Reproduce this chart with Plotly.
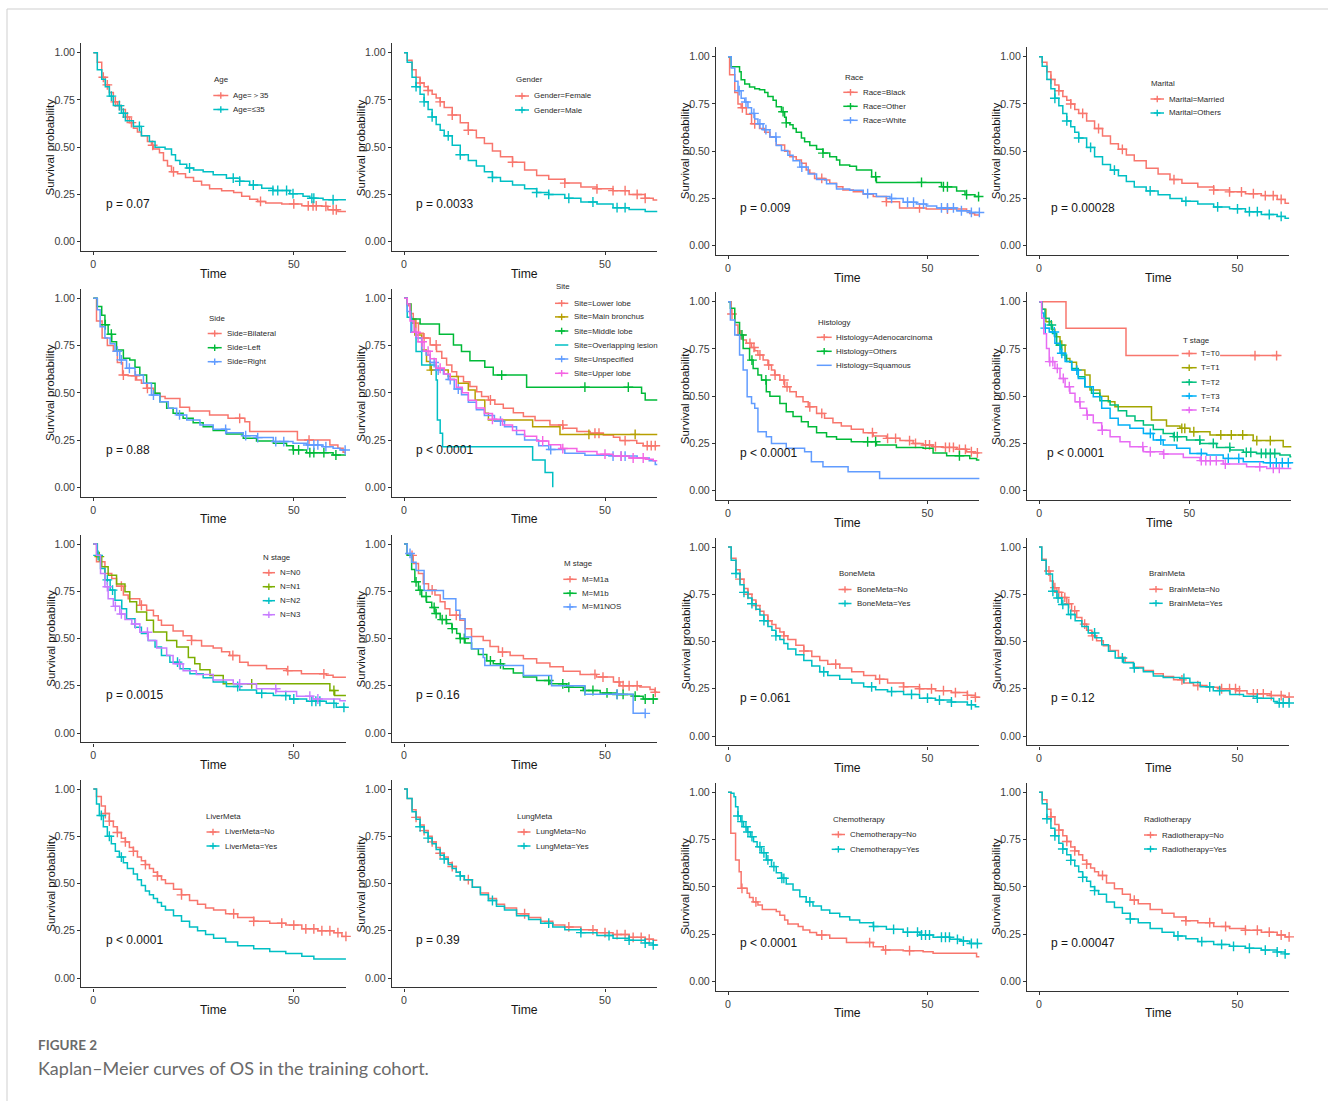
import plotly.graph_objects as go

W, H = 1328, 1101

# ---------------- Kaplan-Meier step data (months, survival after each step) ----------------
# Age
age_gt35_t = [1.0, 2.1, 3.0, 4.0, 5.0, 6.0, 7.0, 8.0, 9.0, 10.0, 11.0, 12.0, 13.5, 14.5, 15.0, 16.5, 17.5, 18.5, 19.5, 21.0, 23.0, 25.0, 27.0, 29.0, 32.0, 35.0, 37.0, 39.0, 41.0, 43.0, 47.0, 52.0, 57.0, 58.5, 61.0, 64.0]
age_gt35_s = [0.95, 0.87, 0.83, 0.79, 0.74, 0.72, 0.70, 0.66, 0.63, 0.60, 0.58, 0.56, 0.53, 0.51, 0.49, 0.47, 0.43, 0.40, 0.37, 0.36, 0.34, 0.32, 0.30, 0.28, 0.27, 0.26, 0.24, 0.225, 0.213, 0.205, 0.20, 0.19, 0.187, 0.169, 0.16, 0.16]
age_gt35_c = [2.5, 3.5, 5.5, 6.5, 8.5, 9.5, 14.8, 20.0, 41.7, 50.0, 53.6, 54.8, 55.6, 58.0, 59.8, 60.6]
age_le35_t = [1.0, 2.1, 3.0, 4.0, 5.0, 7.0, 8.0, 10.0, 12.0, 14.0, 15.4, 17.9, 19.5, 20.5, 21.6, 23.3, 25.0, 27.4, 29.9, 33.2, 36.5, 39.0, 42.0, 44.8, 49.0, 52.3, 54.0, 57.3, 64.0]
age_le35_s = [0.91, 0.86, 0.82, 0.77, 0.72, 0.68, 0.64, 0.61, 0.56, 0.53, 0.50, 0.49, 0.46, 0.43, 0.41, 0.39, 0.38, 0.37, 0.354, 0.336, 0.32, 0.30, 0.283, 0.271, 0.254, 0.24, 0.23, 0.222, 0.222]
age_le35_c = [4.5, 6.5, 7.5, 11.5, 24.0, 34.9, 36.5, 39.9, 44.8, 46.0, 48.2, 49.8, 54.5, 55.0, 59.8]

# Gender
gen_f_t = [0.8, 2, 3, 4, 5, 6, 7, 8, 9, 10, 12, 14, 16, 18, 20, 22, 24, 27, 30, 33, 36, 40, 44, 48, 52, 56, 60, 62, 64]
gen_f_s = [0.96, 0.91, 0.87, 0.84, 0.82, 0.80, 0.78, 0.76, 0.74, 0.71, 0.67, 0.63, 0.59, 0.55, 0.52, 0.48, 0.45, 0.42, 0.38, 0.35, 0.33, 0.31, 0.29, 0.28, 0.27, 0.25, 0.23, 0.22, 0.22]
gen_f_c = [4, 6, 9, 12, 16, 27, 40, 48, 52, 55, 58, 60]
gen_m_t = [0.8, 2, 3, 4, 5, 6, 7, 8, 9, 10, 12, 14, 16, 18, 20, 22, 24, 27, 30, 33, 36, 40, 44, 48, 52, 56, 60, 64]
gen_m_s = [0.95, 0.87, 0.82, 0.78, 0.74, 0.70, 0.66, 0.62, 0.59, 0.56, 0.51, 0.46, 0.43, 0.40, 0.37, 0.34, 0.32, 0.30, 0.28, 0.26, 0.25, 0.23, 0.21, 0.20, 0.18, 0.17, 0.16, 0.16]
gen_m_c = [3, 5, 7, 11, 14, 22, 33, 36, 41, 47, 53, 55]

# Race
race_b_t = [0.4, 1.7, 2.5, 3.3, 4.6, 5.9, 7.9, 9.2, 10.5, 12.1, 14.2, 15.5, 17.1, 18.4, 19.6, 20.5, 21.7, 24.2, 25.5, 27.2, 28.8, 31.4, 33.9, 36.4, 39.7, 43.0, 49.7, 59.8, 60.6, 61.8, 64.0]
race_b_s = [0.905, 0.81, 0.75, 0.73, 0.695, 0.645, 0.62, 0.60, 0.575, 0.533, 0.50, 0.47, 0.453, 0.436, 0.40, 0.383, 0.356, 0.347, 0.33, 0.312, 0.295, 0.286, 0.272, 0.26, 0.233, 0.20, 0.194, 0.183, 0.17, 0.163, 0.163]
race_b_c = [3.6, 6.7, 23.5, 39.7, 48.0, 55.0]
race_o_t = [0.8, 2.9, 3.3, 4.2, 5.4, 6.7, 7.9, 9.2, 10.0, 11.3, 12.1, 13.4, 14.2, 14.6, 15.5, 16.3, 17.1, 18.4, 19.2, 20.5, 22.2, 23.8, 25.5, 27.2, 28.0, 30.5, 32.2, 36.0, 37.2, 53.5, 55.6, 57.3, 59.4, 61.9, 64.0]
race_o_s = [0.947, 0.92, 0.878, 0.855, 0.84, 0.83, 0.825, 0.81, 0.79, 0.77, 0.735, 0.709, 0.68, 0.65, 0.64, 0.62, 0.60, 0.57, 0.55, 0.53, 0.51, 0.49, 0.47, 0.453, 0.427, 0.42, 0.40, 0.365, 0.335, 0.312, 0.31, 0.29, 0.27, 0.26, 0.26]
race_o_c = [13.8, 14.6, 23.8, 37.0, 48.5, 54.0, 55.0, 59.8, 62.8]
race_w_t = [0.8, 1.7, 2.5, 3.3, 4.2, 5.0, 5.9, 6.7, 7.5, 8.8, 10.5, 12.1, 13.4, 15.0, 16.3, 18.0, 20.1, 22.2, 24.7, 27.2, 30.5, 33.9, 37.2, 40.6, 43.9, 47.2, 49.7, 52.3, 57.3, 60.6, 64.0]
race_w_s = [0.94, 0.87, 0.82, 0.78, 0.76, 0.73, 0.70, 0.67, 0.645, 0.614, 0.575, 0.53, 0.504, 0.478, 0.45, 0.416, 0.38, 0.35, 0.328, 0.30, 0.293, 0.275, 0.26, 0.25, 0.23, 0.22, 0.21, 0.20, 0.185, 0.176, 0.171]
race_w_c = [2.8, 4.5, 6.5, 8.0, 9.5, 12.0, 18.5, 35.0, 41.0, 45.0, 46.5, 49.0, 53.5, 55.0, 56.5, 58.5, 61.0, 63.0]

# Marital
mar_m_t = [0.8, 2, 3, 4, 5, 6, 7, 8, 9, 10, 12, 14, 16, 18, 20, 22, 24, 27, 30, 33, 36, 40, 44, 48, 52, 56, 60, 62, 64]
mar_m_s = [0.97, 0.92, 0.88, 0.85, 0.82, 0.79, 0.77, 0.75, 0.72, 0.70, 0.66, 0.62, 0.58, 0.54, 0.51, 0.48, 0.45, 0.41, 0.38, 0.35, 0.33, 0.31, 0.295, 0.285, 0.275, 0.265, 0.245, 0.225, 0.225]
mar_m_c = [3, 5, 8, 11, 15, 21, 34, 44, 48, 51, 54, 57, 59, 61]
mar_o_t = [0.8, 2, 3, 4, 5, 6, 7, 8, 9, 10, 12, 14, 16, 18, 20, 22, 24, 27, 30, 33, 36, 40, 44, 48, 52, 56, 60, 62, 64]
mar_o_s = [0.95, 0.88, 0.83, 0.78, 0.74, 0.70, 0.66, 0.63, 0.60, 0.57, 0.52, 0.47, 0.43, 0.40, 0.37, 0.34, 0.31, 0.29, 0.27, 0.25, 0.235, 0.22, 0.205, 0.195, 0.18, 0.165, 0.155, 0.145, 0.145]
mar_o_c = [4, 7, 10, 13, 19, 28, 37, 45, 50, 53, 55, 58, 61]

# Side
side_b_t = [0.8, 2.2, 3.5, 5.0, 6.0, 7.3, 8.7, 10.8, 12.0, 13.3, 15.0, 16.6, 17.9, 21.6, 24.0, 29.0, 33.6, 37.8, 39.0, 50.9, 59.0, 61.0, 62.3, 64.0]
side_b_s = [0.88, 0.79, 0.75, 0.72, 0.66, 0.594, 0.59, 0.568, 0.55, 0.524, 0.497, 0.48, 0.47, 0.423, 0.404, 0.383, 0.365, 0.347, 0.295, 0.25, 0.224, 0.206, 0.185, 0.185]
side_b_c = [7.5, 10.5, 13.5, 36.5, 53.8]
side_l_t = [1.0, 2.1, 2.9, 3.7, 4.6, 5.8, 7.5, 9.1, 10.4, 11.6, 13.3, 15.4, 16.6, 18.3, 19.9, 22.4, 24.9, 27.4, 29.9, 33.2, 37.4, 40.7, 44.9, 48.2, 49.8, 53.2, 59.8, 64.0]
side_l_s = [0.956, 0.91, 0.86, 0.81, 0.77, 0.727, 0.683, 0.674, 0.635, 0.594, 0.55, 0.497, 0.453, 0.418, 0.392, 0.365, 0.342, 0.321, 0.30, 0.282, 0.26, 0.245, 0.233, 0.22, 0.198, 0.183, 0.171, 0.165]
side_l_c = [3.0, 4.5, 49.9, 51.2, 54.0, 55.0, 57.5, 60.5]
side_r_t = [1.0, 1.7, 2.9, 4.2, 5.4, 6.6, 8.3, 10.4, 12.5, 14.5, 16.6, 18.7, 20.8, 23.3, 26.6, 29.9, 33.2, 37.4, 40.7, 44.9, 49.8, 53.2, 57.3, 59.8, 61.5, 64.0]
side_r_s = [0.94, 0.85, 0.79, 0.76, 0.72, 0.674, 0.63, 0.594, 0.55, 0.488, 0.453, 0.418, 0.383, 0.356, 0.33, 0.307, 0.289, 0.273, 0.263, 0.242, 0.233, 0.224, 0.215, 0.206, 0.197, 0.194]
side_r_c = [6.0, 7.0, 9.0, 15.0, 21.5, 33.0, 38.0, 41.0, 45.5, 47.5, 53.5, 55.0, 56.0, 58.0, 62.8]

# Site
site_lo_t = [0.8, 1.5, 2.3, 3.6, 4.8, 6.5, 8.1, 9.4, 10.6, 11.9, 13.1, 14.8, 16.4, 18.1, 19.3, 21.0, 22.6, 24.7, 27.2, 29.7, 32.6, 36.3, 39.6, 43.0, 46.3, 49.6, 52.1, 53.7, 57.9, 59.5, 64.0]
site_lo_s = [0.96, 0.92, 0.868, 0.815, 0.79, 0.753, 0.718, 0.683, 0.647, 0.612, 0.586, 0.559, 0.533, 0.506, 0.48, 0.462, 0.44, 0.418, 0.395, 0.374, 0.353, 0.33, 0.312, 0.295, 0.286, 0.277, 0.265, 0.247, 0.233, 0.22, 0.22]
site_lo_c = [3.0, 5.0, 8.0, 21.5, 39.5, 47.5, 48.5, 55.0, 60.5, 61.5, 62.5]
site_mb_t = [0.8, 1.7, 2.7, 4.4, 5.6, 6.5, 11.0, 13.5, 16.0, 17.7, 20.1, 21.0, 32.0, 38.8, 64.0]
site_mb_s = [0.97, 0.89, 0.806, 0.727, 0.665, 0.62, 0.586, 0.55, 0.515, 0.462, 0.392, 0.356, 0.32, 0.28, 0.28]
site_mb_c = [6.8, 46.0, 57.5]
site_ml_t = [0.8, 1.7, 4.0, 8.8, 12.3, 14.3, 16.4, 20.1, 22.2, 30.5, 59.1, 60.0, 64.0]
site_ml_s = [0.97, 0.89, 0.864, 0.81, 0.753, 0.718, 0.67, 0.635, 0.594, 0.53, 0.497, 0.462, 0.462]
site_ml_c = [24.3, 45.0, 55.8]
site_ov_t = [0.8, 1.9, 3.0, 4.4, 8.0, 8.3, 9.0, 9.6, 32.0, 35.1, 37.0]
site_ov_s = [0.90, 0.82, 0.718, 0.647, 0.568, 0.356, 0.286, 0.215, 0.144, 0.078, 0.0]
site_ov_c = []
site_un_t = [0.8, 1.7, 3.0, 4.4, 5.5, 6.5, 8.0, 9.8, 11.0, 12.5, 14.3, 16.0, 18.0, 20.0, 22.5, 25.0, 28.0, 30.0, 33.5, 36.0, 40.0, 45.0, 52.0, 58.0, 61.0, 62.5, 64.0]
site_un_s = [0.93, 0.82, 0.79, 0.72, 0.70, 0.66, 0.62, 0.60, 0.57, 0.52, 0.49, 0.45, 0.41, 0.38, 0.35, 0.32, 0.28, 0.25, 0.22, 0.20, 0.18, 0.17, 0.165, 0.155, 0.14, 0.12, 0.12]
site_un_c = [7.5, 8.5, 11.5, 13.5, 24.0, 36.5, 52.0, 54.0, 55.0]
site_up_t = [0.8, 1.5, 2.5, 3.5, 5.0, 6.5, 8.0, 10.0, 11.5, 13.0, 14.5, 16.0, 18.0, 20.0, 22.0, 24.5, 27.0, 30.0, 33.0, 36.0, 39.0, 43.0, 48.0, 52.0, 56.0, 60.0, 62.0, 64.0]
site_up_s = [0.97, 0.88, 0.82, 0.77, 0.72, 0.68, 0.63, 0.60, 0.57, 0.53, 0.50, 0.46, 0.42, 0.39, 0.36, 0.33, 0.30, 0.27, 0.245, 0.225, 0.205, 0.19, 0.175, 0.165, 0.155, 0.148, 0.14, 0.14]
site_up_c = [3.0, 4.5, 6.0, 9.0, 22.0, 34.5, 39.5, 50.0, 54.0, 57.0, 59.5]

# Histology
his_ad_t = [0.8, 1.7, 2.5, 3.8, 4.6, 5.9, 6.7, 7.5, 8.8, 10.0, 10.9, 11.7, 13.0, 14.2, 15.5, 17.1, 18.8, 20.1, 22.2, 24.2, 26.3, 28.4, 30.9, 33.9, 36.4, 39.7, 43.1, 46.4, 48.9, 51.4, 53.9, 57.3, 59.8, 61.5, 64.0]
his_ad_s = [0.935, 0.877, 0.824, 0.797, 0.78, 0.758, 0.74, 0.718, 0.691, 0.665, 0.638, 0.612, 0.586, 0.55, 0.524, 0.497, 0.47, 0.444, 0.409, 0.383, 0.36, 0.342, 0.325, 0.307, 0.289, 0.277, 0.265, 0.25, 0.242, 0.233, 0.229, 0.219, 0.206, 0.20, 0.20]
his_ad_c = [1.0, 3.2, 5.5, 6.5, 8.0, 10.2, 11.8, 14.0, 14.8, 20.5, 23.5, 36.2, 40.0, 42.0, 45.5, 47.0, 49.5, 50.5, 52.0, 54.5, 55.5, 56.5, 58.0, 59.5, 61.0, 62.5]
his_ot_t = [0.6, 1.7, 2.9, 3.8, 5.4, 6.3, 7.5, 8.4, 9.6, 10.5, 13.0, 14.6, 16.3, 18.4, 20.1, 22.2, 24.7, 27.2, 30.9, 37.2, 42.2, 48.9, 51.4, 54.8, 60.6, 62.3, 64.0]
his_ot_s = [0.965, 0.89, 0.824, 0.753, 0.691, 0.647, 0.612, 0.586, 0.524, 0.50, 0.462, 0.418, 0.392, 0.365, 0.339, 0.307, 0.286, 0.272, 0.259, 0.242, 0.229, 0.224, 0.20, 0.185, 0.171, 0.162, 0.162]
his_ot_c = [3.5, 6.0, 9.5, 35.0, 37.0, 58.0]
his_sq_t = [0.6, 1.7, 2.9, 3.8, 4.8, 5.9, 6.7, 7.5, 9.6, 10.9, 14.6, 19.2, 20.9, 23.8, 30.1, 38.0, 64.0]
his_sq_s = [0.903, 0.824, 0.718, 0.638, 0.497, 0.462, 0.436, 0.312, 0.286, 0.25, 0.224, 0.206, 0.153, 0.127, 0.10, 0.065, 0.065]
his_sq_c = []

# T stage
t0_t = [8.9, 28.9, 80.0]
t0_s = [0.86, 0.715, 0.715]
t0_c = [71.9, 79.1]
t1_t = [1.0, 2.2, 4.1, 5.2, 6.9, 8.6, 10.2, 12.4, 15.2, 16.9, 20.2, 23.0, 25.2, 37.4, 42.4, 46.9, 50.2, 56.9, 71.3, 81.3, 84.5]
t1_s = [0.96, 0.894, 0.854, 0.815, 0.77, 0.70, 0.68, 0.638, 0.612, 0.533, 0.50, 0.47, 0.444, 0.374, 0.342, 0.33, 0.312, 0.295, 0.265, 0.233, 0.233]
t1_c = [7.5, 47.5, 48.5, 51.5, 60.5, 64.0, 67.8, 72.5, 77.0]
t2_t = [0.8, 1.9, 3.3, 4.4, 5.8, 7.4, 9.1, 10.8, 13.0, 15.2, 17.4, 20.2, 23.6, 26.3, 29.1, 31.9, 34.7, 38.0, 41.3, 44.7, 49.1, 53.6, 59.1, 63.6, 68.0, 72.4, 80.2, 83.6, 84.5]
t2_s = [0.96, 0.912, 0.877, 0.832, 0.77, 0.718, 0.683, 0.647, 0.603, 0.55, 0.515, 0.476, 0.453, 0.423, 0.395, 0.37, 0.347, 0.324, 0.303, 0.286, 0.268, 0.25, 0.229, 0.215, 0.203, 0.197, 0.189, 0.18, 0.18]
t2_c = [4.0, 7.0, 45.0, 46.0, 53.5, 58.0, 63.5, 69.0, 70.5, 74.0, 75.5, 77.0, 78.5]
t3_t = [0.8, 1.5, 3.3, 5.2, 6.9, 8.6, 10.8, 13.0, 15.2, 18.0, 20.8, 23.6, 26.3, 30.2, 34.7, 38.0, 41.3, 45.8, 50.2, 55.8, 61.3, 68.0, 74.7, 84.5]
t3_s = [0.94, 0.86, 0.84, 0.78, 0.727, 0.683, 0.638, 0.594, 0.55, 0.497, 0.436, 0.383, 0.347, 0.33, 0.303, 0.268, 0.242, 0.224, 0.197, 0.189, 0.171, 0.153, 0.148, 0.145]
t3_c = [2.0, 5.0, 7.5, 12.5, 37.0, 40.5, 54.0, 63.0, 66.5, 77.0, 79.0, 81.0, 83.0]
t4_t = [0.8, 1.5, 2.4, 3.3, 5.2, 6.9, 8.6, 10.2, 11.9, 13.6, 15.8, 18.0, 20.8, 23.6, 26.9, 30.2, 34.7, 41.3, 48.0, 53.6, 61.3, 69.1, 75.8, 84.5]
t4_s = [0.912, 0.83, 0.753, 0.683, 0.647, 0.594, 0.55, 0.515, 0.47, 0.436, 0.40, 0.36, 0.32, 0.286, 0.259, 0.233, 0.206, 0.194, 0.176, 0.159, 0.141, 0.127, 0.118, 0.115]
t4_c = [3.5, 4.5, 6.0, 8.0, 10.0, 13.5, 16.0, 21.0, 34.5, 37.0, 41.5, 54.0, 55.5, 57.0, 59.0, 62.0, 73.5, 78.0, 80.0]

# N stage
n0_t = [0.8, 2.9, 4.6, 5.8, 7.5, 8.7, 11.6, 13.3, 15.0, 16.2, 17.0, 19.9, 22.4, 24.5, 27.0, 29.9, 32.0, 34.0, 36.5, 38.6, 43.2, 48.2, 51.9, 58.1, 59.8, 64.0]
n0_s = [0.906, 0.844, 0.818, 0.777, 0.73, 0.71, 0.676, 0.65, 0.62, 0.596, 0.57, 0.54, 0.515, 0.49, 0.46, 0.45, 0.43, 0.41, 0.375, 0.357, 0.34, 0.33, 0.313, 0.306, 0.295, 0.29]
n0_c = [7.0, 12.0, 24.5, 34.8, 48.5, 57.5]
n1_t = [1.0, 2.1, 3.7, 5.8, 7.9, 9.1, 10.8, 13.3, 15.0, 18.3, 20.8, 23.7, 25.3, 26.6, 29.1, 32.4, 59.0, 60.2, 64.0]
n1_s = [0.933, 0.88, 0.835, 0.788, 0.747, 0.694, 0.64, 0.596, 0.535, 0.49, 0.455, 0.40, 0.366, 0.334, 0.304, 0.26, 0.225, 0.198, 0.198]
n1_c = [1.5, 39.5, 60.0]
n2_t = [1.0, 1.8, 2.9, 4.2, 5.4, 7.1, 8.3, 10.4, 12.0, 13.7, 15.4, 17.0, 19.1, 21.6, 24.1, 27.4, 29.9, 33.2, 36.5, 40.7, 44.9, 49.0, 53.2, 58.1, 60.6, 64.0]
n2_s = [0.94, 0.87, 0.81, 0.756, 0.703, 0.658, 0.605, 0.56, 0.526, 0.49, 0.455, 0.41, 0.375, 0.34, 0.313, 0.292, 0.27, 0.246, 0.228, 0.21, 0.198, 0.18, 0.168, 0.157, 0.136, 0.136]
n2_c = [1.2, 3.5, 4.8, 21.0, 36.0, 42.0, 48.0, 50.0, 54.5, 55.5, 56.5, 60.0, 62.5]
n3_t = [0.8, 1.8, 2.9, 3.7, 5.0, 6.6, 7.9, 9.6, 11.6, 13.7, 15.8, 18.3, 19.9, 22.4, 25.7, 29.9, 34.9, 40.7, 45.7, 50.7, 54.8, 61.5, 64.0]
n3_s = [0.94, 0.844, 0.774, 0.71, 0.67, 0.63, 0.60, 0.577, 0.533, 0.49, 0.45, 0.41, 0.366, 0.33, 0.31, 0.28, 0.26, 0.234, 0.22, 0.195, 0.18, 0.17, 0.17]
n3_c = [3.5, 5.5, 7.0, 10.5, 13.5, 21.5, 36.5, 45.5, 54.0, 56.0]

# M stage
m1a_t = [0.8, 2.3, 3.6, 4.8, 6.1, 7.7, 9.0, 10.2, 11.4, 13.9, 15.2, 16.8, 19.7, 21.4, 23.5, 26.4, 29.7, 33.0, 36.3, 39.6, 43.8, 47.9, 52.1, 53.7, 58.7, 61.2, 62.4, 64.0]
m1a_s = [0.94, 0.897, 0.844, 0.79, 0.757, 0.73, 0.694, 0.658, 0.623, 0.596, 0.552, 0.51, 0.49, 0.458, 0.428, 0.41, 0.393, 0.37, 0.35, 0.327, 0.31, 0.296, 0.27, 0.25, 0.243, 0.23, 0.216, 0.216]
m1a_c = [2.0, 7.0, 13.0, 24.5, 47.5, 49.5, 53.5, 54.5, 56.0, 58.0, 62.5]
m1b_t = [0.8, 1.9, 2.7, 3.6, 4.4, 5.6, 6.9, 7.7, 9.0, 10.6, 11.9, 13.1, 13.9, 15.2, 16.8, 18.5, 20.6, 22.2, 24.7, 27.2, 29.7, 33.0, 36.3, 40.5, 44.6, 48.8, 52.9, 57.0, 59.5, 64.0]
m1b_s = [0.94, 0.865, 0.80, 0.755, 0.722, 0.692, 0.664, 0.632, 0.60, 0.58, 0.552, 0.526, 0.50, 0.476, 0.446, 0.416, 0.382, 0.366, 0.34, 0.317, 0.296, 0.278, 0.26, 0.242, 0.225, 0.212, 0.204, 0.195, 0.18, 0.177]
m1b_c = [3.0, 4.0, 5.5, 7.5, 8.0, 9.5, 10.5, 12.0, 14.0, 15.0, 21.5, 24.0, 36.0, 39.5, 41.0, 45.0, 47.0, 50.5, 53.0, 54.5, 57.5, 60.0, 62.0]
m1nos_t = [0.8, 1.9, 3.0, 5.0, 9.8, 12.9, 13.9, 15.2, 16.8, 19.7, 20.1, 29.7, 36.7, 45.0, 57.0, 60.0]
m1nos_s = [0.95, 0.904, 0.86, 0.754, 0.71, 0.65, 0.605, 0.508, 0.446, 0.40, 0.357, 0.304, 0.25, 0.205, 0.104, 0.104]
m1nos_c = [1.5, 53.0, 60.0]

# BoneMeta
bone_n_t = [0.8, 2, 3, 4, 5, 6, 7, 8, 9, 10, 11, 12, 13, 14, 15, 17, 19, 21, 23, 25, 28, 31, 34, 37, 40, 44, 48, 52, 56, 60, 62, 64]
bone_n_s = [0.94, 0.88, 0.83, 0.78, 0.75, 0.72, 0.69, 0.66, 0.64, 0.61, 0.59, 0.57, 0.55, 0.53, 0.51, 0.48, 0.45, 0.42, 0.40, 0.38, 0.36, 0.34, 0.32, 0.30, 0.28, 0.26, 0.25, 0.24, 0.23, 0.215, 0.205, 0.205]
bone_n_c = [3, 5, 7, 10, 14, 19, 27, 38, 44, 48, 51, 54, 57, 60, 62]
bone_y_t = [0.8, 2, 3, 4, 5, 6, 7, 8, 9, 10, 11, 12, 13, 14, 15, 17, 19, 21, 23, 25, 28, 31, 34, 37, 40, 44, 48, 52, 56, 60, 62, 64]
bone_y_s = [0.93, 0.86, 0.80, 0.76, 0.73, 0.70, 0.67, 0.64, 0.61, 0.58, 0.56, 0.53, 0.51, 0.49, 0.46, 0.43, 0.40, 0.37, 0.34, 0.32, 0.30, 0.28, 0.26, 0.245, 0.235, 0.22, 0.20, 0.19, 0.18, 0.165, 0.155, 0.155]
bone_y_c = [2, 4, 6, 9, 12, 24, 36, 41, 46, 50, 53, 56, 61]

# BrainMeta
brain_n_t = [0.7, 1.8, 2.8, 3.6, 4.5, 5.7, 7.0, 8.2, 9.5, 10.8, 12.0, 13.3, 14.5, 16.2, 17.9, 20.0, 21.7, 23.8, 26.3, 28.8, 31.3, 33.9, 36.4, 38.9, 42.3, 45.6, 49.8, 52.4, 58.2, 61.6, 64.0]
brain_n_s = [0.935, 0.873, 0.82, 0.785, 0.76, 0.733, 0.70, 0.663, 0.627, 0.592, 0.56, 0.53, 0.504, 0.478, 0.452, 0.417, 0.39, 0.364, 0.346, 0.33, 0.315, 0.297, 0.28, 0.267, 0.258, 0.25, 0.24, 0.223, 0.214, 0.206, 0.197]
brain_n_c = [2.5, 4.0, 5.0, 6.5, 7.5, 9.0, 11.5, 13.5, 36.0, 40.0, 46.0, 48.0, 49.5, 50.5, 54.0, 55.0, 56.5, 58.5, 61.0, 63.0]
brain_y_t = [0.7, 1.8, 3.4, 4.5, 5.7, 7.4, 9.1, 10.8, 12.4, 14.1, 15.8, 17.5, 19.2, 21.3, 23.8, 26.3, 28.8, 31.3, 35.5, 38.0, 40.6, 43.9, 48.1, 51.5, 54.9, 59.1, 60.0, 64.0]
brain_y_s = [0.93, 0.857, 0.766, 0.73, 0.696, 0.643, 0.61, 0.58, 0.545, 0.52, 0.483, 0.448, 0.413, 0.387, 0.36, 0.34, 0.317, 0.31, 0.305, 0.283, 0.26, 0.24, 0.22, 0.21, 0.20, 0.183, 0.175, 0.175]
brain_y_c = [3.5, 4.8, 6.0, 8.0, 14.0, 21.0, 24.0, 36.5, 43.0, 45.5, 55.0, 60.5, 61.5, 63.0]

# LiverMeta
liv_n_t = [0.8, 2, 3, 4, 5, 6, 7, 8, 9, 10, 11, 12, 13, 14, 15, 16, 17, 18, 20, 22, 24, 26, 28, 30, 33, 36, 40, 44, 48, 52, 56, 60, 62, 64]
liv_n_s = [0.96, 0.91, 0.87, 0.83, 0.80, 0.77, 0.74, 0.72, 0.69, 0.67, 0.64, 0.62, 0.60, 0.58, 0.56, 0.54, 0.52, 0.50, 0.47, 0.44, 0.41, 0.39, 0.37, 0.36, 0.34, 0.32, 0.30, 0.29, 0.28, 0.26, 0.25, 0.24, 0.22, 0.22]
liv_n_c = [3, 4, 6, 8, 10, 13, 16, 22, 35, 40, 47, 50, 53, 55, 57, 59, 61, 63]
liv_y_t = [0.8, 1.5, 2.5, 3.5, 4.5, 5.5, 6.5, 7.5, 8.5, 10, 11, 12, 13, 14, 15, 16, 17, 18, 20, 22, 24, 26, 28, 30, 33, 36, 40, 44, 48, 52, 55, 64]
liv_y_s = [0.92, 0.86, 0.80, 0.75, 0.71, 0.67, 0.64, 0.61, 0.58, 0.55, 0.52, 0.49, 0.46, 0.44, 0.42, 0.40, 0.38, 0.36, 0.33, 0.30, 0.27, 0.25, 0.23, 0.21, 0.19, 0.17, 0.155, 0.14, 0.13, 0.115, 0.10, 0.10]
liv_y_c = [2, 4, 7]

# LungMeta
lung_n_t = [0.8, 2, 3, 4, 5, 6, 7, 8, 9, 10, 11, 12, 13, 14, 15, 17, 19, 21, 23, 25, 28, 31, 34, 37, 40, 44, 48, 52, 56, 60, 62, 64]
lung_n_s = [0.95, 0.89, 0.85, 0.81, 0.78, 0.75, 0.72, 0.69, 0.66, 0.64, 0.61, 0.59, 0.56, 0.54, 0.52, 0.48, 0.45, 0.42, 0.39, 0.37, 0.34, 0.32, 0.30, 0.28, 0.27, 0.255, 0.24, 0.23, 0.215, 0.205, 0.20, 0.20]
lung_n_c = [3, 5, 7, 9, 12, 16, 30, 41, 47, 50, 53, 55, 57, 59, 61]
lung_y_t = [0.8, 2, 3, 4, 5, 6, 7, 8, 9, 10, 11, 12, 13, 14, 15, 17, 19, 21, 23, 25, 28, 31, 34, 37, 40, 44, 48, 52, 56, 60, 62, 64]
lung_y_s = [0.95, 0.88, 0.84, 0.80, 0.77, 0.74, 0.71, 0.68, 0.65, 0.63, 0.60, 0.58, 0.56, 0.54, 0.52, 0.48, 0.44, 0.41, 0.38, 0.36, 0.33, 0.31, 0.29, 0.27, 0.255, 0.24, 0.225, 0.21, 0.20, 0.185, 0.175, 0.175]
lung_y_c = [4, 6, 10, 14, 22, 36, 44, 51, 56, 60, 62]

# Chemotherapy
chemo_n_t = [0.7, 1.9, 2.8, 3.3, 4.8, 5.4, 6.3, 7.5, 8.6, 12.1, 13.0, 14.2, 15.0, 17.6, 18.8, 20.5, 22.2, 25.5, 29.7, 36.4, 38.9, 43.9, 48.9, 51.4, 62.3, 64.0]
chemo_n_s = [0.783, 0.642, 0.58, 0.492, 0.466, 0.444, 0.42, 0.404, 0.38, 0.369, 0.35, 0.325, 0.303, 0.29, 0.272, 0.258, 0.245, 0.228, 0.205, 0.183, 0.166, 0.162, 0.157, 0.148, 0.13, 0.13]
chemo_n_c = [3.5, 7.0, 23.5, 35.5, 39.5, 45.5]
chemo_y_t = [0.8, 1.5, 1.9, 2.5, 3.2, 3.9, 4.8, 5.6, 6.4, 7.3, 8.4, 9.6, 10.9, 12.1, 13.4, 14.6, 16.3, 18.0, 19.6, 21.3, 23.4, 25.5, 28.0, 30.5, 33.0, 36.4, 39.7, 43.9, 48.1, 51.4, 55.6, 58.1, 60.6, 64.0]
chemo_y_s = [0.995, 0.977, 0.924, 0.875, 0.845, 0.818, 0.79, 0.765, 0.739, 0.712, 0.68, 0.642, 0.607, 0.575, 0.545, 0.515, 0.483, 0.448, 0.42, 0.399, 0.377, 0.36, 0.342, 0.325, 0.31, 0.29, 0.275, 0.26, 0.245, 0.233, 0.222, 0.213, 0.20, 0.192]
chemo_y_c = [2.5, 3.5, 4.5, 5.0, 6.0, 8.0, 9.0, 10.0, 11.5, 13.5, 14.0, 20.5, 36.5, 41.5, 45.0, 47.5, 48.5, 49.5, 50.5, 53.5, 54.5, 55.5, 57.5, 59.0, 61.0, 62.5]

# Radiotherapy
radio_n_t = [0.8, 2, 3, 4, 5, 6, 7, 8, 9, 10, 11, 12, 13, 14, 15, 17, 19, 21, 23, 25, 28, 31, 34, 37, 40, 44, 48, 52, 56, 60, 62, 64]
radio_n_s = [0.96, 0.91, 0.87, 0.83, 0.80, 0.77, 0.74, 0.71, 0.69, 0.67, 0.64, 0.62, 0.60, 0.58, 0.56, 0.52, 0.49, 0.46, 0.43, 0.41, 0.38, 0.36, 0.34, 0.32, 0.31, 0.29, 0.28, 0.27, 0.26, 0.245, 0.235, 0.23]
radio_n_c = [3, 5, 7, 9, 12, 16, 24, 37, 43, 47, 52, 55, 58, 61, 63]
radio_y_t = [0.8, 2, 3, 4, 5, 6, 7, 8, 9, 10, 11, 12, 13, 14, 15, 17, 19, 21, 23, 25, 28, 31, 34, 37, 40, 44, 48, 52, 56, 60, 62, 64]
radio_y_s = [0.94, 0.86, 0.81, 0.77, 0.73, 0.70, 0.67, 0.64, 0.61, 0.58, 0.55, 0.53, 0.50, 0.48, 0.46, 0.42, 0.39, 0.36, 0.33, 0.31, 0.28, 0.26, 0.24, 0.225, 0.21, 0.195, 0.185, 0.175, 0.165, 0.155, 0.145, 0.14]
radio_y_c = [2, 4, 6, 8, 11, 14, 23, 35, 41, 46, 49, 53, 57, 60, 62]

# ---------------- palettes (ggplot2 hue) ----------------
PAL2 = ["#F8766D", "#00BFC4"]
PAL3 = ["#F8766D", "#00BA38", "#619CFF"]
PAL4 = ["#F8766D", "#7CAE00", "#00BFC4", "#C77CFF"]
PAL5 = ["#F8766D", "#A3A500", "#00BF7D", "#00B0F6", "#E76BF3"]
PAL6 = ["#F8766D", "#B79F00", "#00BA38", "#00BFC4", "#619CFF", "#F564E3"]

# ---------------- panel definitions ----------------
# legend: (title_x, title_y, glyph_x0, glyph_x1, text_x, [entry y...]) in page pixels
PANELS = [
    dict(r=0, c=0, title="Age", p="p = 0.07", pal=PAL2,
         labels=["Age=\uff1e35", "Age=\u226435"],
         curves=[(age_gt35_t, age_gt35_s, age_gt35_c), (age_le35_t, age_le35_s, age_le35_c)],
         leg=(212.3, 80, 213.3, 228.3, 231, [95.5, 109.5])),
    dict(r=0, c=1, title="Gender", p="p = 0.0033", pal=PAL2,
         labels=["Gender=Female", "Gender=Male"],
         curves=[(gen_f_t, gen_f_s, gen_f_c), (gen_m_t, gen_m_s, gen_m_c)],
         leg=(514, 79.5, 515, 529, 532, [96, 110])),
    dict(r=0, c=2, title="Race", p="p = 0.009", pal=PAL3,
         labels=["Race=Black", "Race=Other", "Race=White"],
         curves=[(race_b_t, race_b_s, race_b_c), (race_o_t, race_o_s, race_o_c), (race_w_t, race_w_s, race_w_c)],
         leg=(842.7, 77, 843.3, 857.7, 861, [92.3, 106.3, 120.3])),
    dict(r=0, c=3, title="Marital", p="p = 0.00028", pal=PAL2,
         labels=["Marital=Married", "Marital=Others"],
         curves=[(mar_m_t, mar_m_s, mar_m_c), (mar_o_t, mar_o_s, mar_o_c)],
         leg=(1149, 83.5, 1150.5, 1164, 1167, [99, 113])),
    dict(r=1, c=0, title="Side", p="p = 0.88", pal=PAL3,
         labels=["Side=Bilateral", "Side=Left", "Side=Right"],
         curves=[(side_b_t, side_b_s, side_b_c), (side_l_t, side_l_s, side_l_c), (side_r_t, side_r_s, side_r_c)],
         leg=(206.7, 319, 207.7, 221.7, 225, [333.5, 347.7, 361.7])),
    dict(r=1, c=1, title="Site", p="p < 0.0001", pal=PAL6,
         labels=["Site=Lower lobe", "Site=Main bronchus", "Site=Middle lobe", "Site=Overlapping lesion",
                 "Site=Unspecified", "Site=Upper lobe"],
         curves=[(site_lo_t, site_lo_s, site_lo_c), (site_mb_t, site_mb_s, site_mb_c), (site_ml_t, site_ml_s, site_ml_c),
                 (site_ov_t, site_ov_s, site_ov_c), (site_un_t, site_un_s, site_un_c), (site_up_t, site_up_s, site_up_c)],
         leg=(554, 286.5, 555, 568.3, 571.7, [303.3, 316.9, 331, 345, 359, 373.3])),
    dict(r=1, c=2, title="Histology", p="p < 0.0001", pal=PAL3,
         labels=["Histology=Adenocarcinoma", "Histology=Others", "Histology=Squamous"],
         curves=[(his_ad_t, his_ad_s, his_ad_c), (his_ot_t, his_ot_s, his_ot_c), (his_sq_t, his_sq_s, his_sq_c)],
         leg=(815.7, 322.3, 816.7, 831.7, 834, [337.3, 351.3, 365.3])),
    dict(r=1, c=3, title="T stage", p="p < 0.0001", pal=PAL5,
         labels=["T=T0", "T=T1", "T=T2", "T=T3", "T=T4"],
         curves=[(t0_t, t0_s, t0_c), (t1_t, t1_s, t1_c), (t2_t, t2_s, t2_c), (t3_t, t3_s, t3_c), (t4_t, t4_s, t4_c)],
         leg=(1180.7, 340, 1181.7, 1196.7, 1199.3, [353.5, 367.7, 382.2, 396, 410])),
    dict(r=2, c=0, title="N stage", p="p = 0.0015", pal=PAL4,
         labels=["N=N0", "N=N1", "N=N2", "N=N3"],
         curves=[(n0_t, n0_s, n0_c), (n1_t, n1_s, n1_c), (n2_t, n2_s, n2_c), (n3_t, n3_s, n3_c)],
         leg=(260.7, 557.3, 262.7, 275, 278.3, [572.7, 586.7, 600.7, 614.7])),
    dict(r=2, c=1, title="M stage", p="p = 0.16", pal=PAL3,
         labels=["M=M1a", "M=M1b", "M=M1NOS"],
         curves=[(m1a_t, m1a_s, m1a_c), (m1b_t, m1b_s, m1b_c), (m1nos_t, m1nos_s, m1nos_c)],
         leg=(562, 563.5, 563.3, 576.7, 580, [579.3, 593.3, 606.9])),
    dict(r=2, c=2, title="BoneMeta", p="p = 0.061", pal=PAL2,
         labels=["BoneMeta=No", "BoneMeta=Yes"],
         curves=[(bone_n_t, bone_n_s, bone_n_c), (bone_y_t, bone_y_s, bone_y_c)],
         leg=(837, 573.5, 838.5, 851.5, 855, [589.5, 603.5])),
    dict(r=2, c=3, title="BrainMeta", p="p = 0.12", pal=PAL2,
         labels=["BrainMeta=No", "BrainMeta=Yes"],
         curves=[(brain_n_t, brain_n_s, brain_n_c), (brain_y_t, brain_y_s, brain_y_c)],
         leg=(1147.3, 573.5, 1149.3, 1162.7, 1166.7, [589.3, 603.3])),
    dict(r=3, c=0, title="LiverMeta", p="p < 0.0001", pal=PAL2,
         labels=["LiverMeta=No", "LiverMeta=Yes"],
         curves=[(liv_n_t, liv_n_s, liv_n_c), (liv_y_t, liv_y_s, liv_y_c)],
         leg=(204, 816, 206.5, 219.5, 222.5, [832, 846])),
    dict(r=3, c=1, title="LungMeta", p="p = 0.39", pal=PAL2,
         labels=["LungMeta=No", "LungMeta=Yes"],
         curves=[(lung_n_t, lung_n_s, lung_n_c), (lung_y_t, lung_y_s, lung_y_c)],
         leg=(515, 816, 517.5, 530.5, 534, [832, 846])),
    dict(r=3, c=2, title="Chemotherapy", p="p < 0.0001", pal=PAL2,
         labels=["Chemotherapy=No", "Chemotherapy=Yes"],
         curves=[(chemo_n_t, chemo_n_s, chemo_n_c), (chemo_y_t, chemo_y_s, chemo_y_c)],
         leg=(830.7, 819.3, 831.7, 845, 848.3, [834.5, 849.3])),
    dict(r=3, c=3, title="Radiotherapy", p="p = 0.00047", pal=PAL2,
         labels=["Radiotherapy=No", "Radiotherapy=Yes"],
         curves=[(radio_n_t, radio_n_s, radio_n_c), (radio_y_t, radio_y_s, radio_y_c)],
         leg=(1142, 819.5, 1144, 1157, 1160, [835, 849])),
]

# ---------------- page geometry (pixels) ----------------
COL_X0 = [93.3, 404.0, 728.0, 1039.0]       # pixel of time 0
COL_UNIT = [4.01, 4.02, 3.99, 3.97]         # pixels per month
ROW_Y1 = [[52.7, 298.3, 544.0, 789.0],
          [52.7, 298.3, 544.0, 789.0],
          [56.7, 301.7, 547.0, 792.3],
          [56.7, 301.7, 547.0, 792.3]]      # pixel of survival 1.0, per column
Y_UNIT = 189.0

FONT = "Liberation Sans, Arial, sans-serif"
AX_COL = "#333333"
TICK_TXT = "#3d3d3d"
LAB_COL = "#151515"


def fx(x):
    return x / W


def fy(y):
    return 1 - y / H


def surv_at(ts, ss, t):
    v = 1.0
    for ti, si in zip(ts, ss):
        if ti <= t:
            v = si
        else:
            break
    return v


def geometry(r, c):
    if (r, c) == (1, 3):
        x0, unit, xr = 1039.3, 3.0, (-4.2, 84.0)
    else:
        x0, unit, xr = COL_X0[c], COL_UNIT[c], (-3.0, 63.0)
    y1 = ROW_Y1[c][r]
    left, right = x0 + xr[0] * unit, x0 + xr[1] * unit
    top, bottom = y1 - 0.05 * Y_UNIT, y1 + 1.05 * Y_UNIT
    return xr, left, right, top, bottom


fig = go.Figure()
layout = dict(
    width=W, height=H, margin=dict(l=0, r=0, t=0, b=0),
    paper_bgcolor="white", plot_bgcolor="white", showlegend=False,
    font=dict(family=FONT, color=TICK_TXT),
)
annotations = []
shapes = []

# page frame
shapes.append(dict(type="line", xref="paper", yref="paper", x0=fx(7), x1=1, y0=fy(9), y1=fy(9),
                   line=dict(color="#cfcfcf", width=1)))
shapes.append(dict(type="line", xref="paper", yref="paper", x0=fx(7), x1=fx(7), y0=fy(9), y1=0,
                   line=dict(color="#cfcfcf", width=1)))

for i, pnl in enumerate(PANELS):
    n = "" if i == 0 else str(i + 1)
    xa, ya = "x" + n, "y" + n
    xr, left, right, top, bottom = geometry(pnl["r"], pnl["c"])

    layout["xaxis" + n] = dict(
        domain=[fx(left), fx(right)], range=list(xr), anchor=ya,
        tickvals=[0, 50], ticktext=["0", "50"], ticks="outside", ticklen=3, tickwidth=1.1,
        tickcolor=AX_COL, showline=True, linecolor=AX_COL, linewidth=1.3,
        showgrid=False, zeroline=False, tickfont=dict(size=10.6, color=TICK_TXT, family=FONT),
        fixedrange=True,
    )
    layout["yaxis" + n] = dict(
        domain=[fy(bottom), fy(top)], range=[-0.05, 1.05], anchor=xa,
        tickvals=[0, 0.25, 0.5, 0.75, 1.0], ticktext=["0.00", "0.25", "0.50", "0.75", "1.00"],
        ticks="outside", ticklen=3, tickwidth=1.1, tickcolor=AX_COL,
        showline=True, linecolor=AX_COL, linewidth=1.3, showgrid=False, zeroline=False,
        tickfont=dict(size=10.6, color=TICK_TXT, family=FONT), fixedrange=True,
    )

    # survival curves with censor ticks
    for (ts, ss, cens), color in zip(pnl["curves"], pnl["pal"]):
        fig.add_trace(go.Scatter(
            x=[0.0] + list(ts), y=[1.0] + list(ss), mode="lines",
            line=dict(color=color, width=1.5, shape="hv"),
            xaxis=xa, yaxis=ya, hoverinfo="skip"))
        if cens:
            fig.add_trace(go.Scatter(
                x=cens, y=[surv_at(ts, ss, c) for c in cens], mode="markers",
                marker=dict(symbol="cross-thin", size=7, color=color, line=dict(color=color, width=1.4)),
                xaxis=xa, yaxis=ya, hoverinfo="skip", cliponaxis=False))

    # axis titles
    annotations.append(dict(x=fx((left + right) / 2), y=fy(bottom + 22.5), xref="paper", yref="paper",
                            text="Time", showarrow=False, xanchor="center", yanchor="middle",
                            font=dict(size=12.2, color=LAB_COL, family=FONT)))
    annotations.append(dict(x=fx(left - 31), y=fy((top + bottom) / 2), xref="paper", yref="paper",
                            text="Survival probability", showarrow=False, textangle=-90,
                            xanchor="center", yanchor="middle",
                            font=dict(size=11.5, color=LAB_COL, family=FONT)))

    # log-rank p value
    px = 2.0 if (pnl["r"], pnl["c"]) == (1, 3) else 2.6
    annotations.append(dict(x=px, y=0.2, xref=xa, yref=ya, text=pnl["p"], showarrow=False,
                            xanchor="left", yanchor="middle",
                            font=dict(size=12, color=LAB_COL, family=FONT)))

    # legend block
    tx, ty, g0, g1, lx, ys = pnl["leg"]
    longest = max(len(s) for s in pnl["labels"])
    shapes.append(dict(type="rect", xref="paper", yref="paper", layer="above",
                       x0=fx(g0 - 3), x1=fx(lx + longest * 4.2 + 4), y0=fy(ys[-1] + 6), y1=fy(ty - 6),
                       fillcolor="white", line=dict(width=0)))
    annotations.append(dict(x=fx(tx), y=fy(ty), xref="paper", yref="paper", text=pnl["title"],
                            showarrow=False, xanchor="left", yanchor="middle",
                            font=dict(size=7.9, color="#2a2a2a", family=FONT)))
    for k, (lab, color, yy) in enumerate(zip(pnl["labels"], pnl["pal"], ys)):
        shapes.append(dict(type="line", xref="paper", yref="paper", layer="above",
                           x0=fx(g0), x1=fx(g1), y0=fy(yy), y1=fy(yy), line=dict(color=color, width=1.5)))
        if pnl["curves"][k][2]:
            gm = (g0 + g1) / 2
            shapes.append(dict(type="line", xref="paper", yref="paper", layer="above",
                               x0=fx(gm), x1=fx(gm), y0=fy(yy - 3.3), y1=fy(yy + 3.3),
                               line=dict(color=color, width=1.4)))
            shapes.append(dict(type="line", xref="paper", yref="paper", layer="above",
                               x0=fx(gm - 3.3), x1=fx(gm + 3.3), y0=fy(yy), y1=fy(yy),
                               line=dict(color=color, width=1.4)))
        annotations.append(dict(x=fx(lx), y=fy(yy), xref="paper", yref="paper", text=lab,
                                showarrow=False, xanchor="left", yanchor="middle",
                                font=dict(size=7.9, color="#2a2a2a", family=FONT)))

# caption
annotations.append(dict(x=fx(36), y=fy(1044.5), xref="paper", yref="paper", text="<b>FIGURE 2</b>",
                        showarrow=False, xanchor="left", yanchor="middle",
                        font=dict(size=13.5, color="#6a6a6a", family="Lato, Open Sans, sans-serif")))
annotations.append(dict(x=fx(36), y=fy(1068), xref="paper", yref="paper",
                        text="Kaplan\u2013Meier curves of OS in the training cohort.",
                        showarrow=False, xanchor="left", yanchor="middle",
                        font=dict(size=18, color="#6a6a6a", family="Lato, Open Sans, sans-serif")))

layout["annotations"] = annotations
layout["shapes"] = shapes
fig.update_layout(**layout)
fig.write_html("out.html")
